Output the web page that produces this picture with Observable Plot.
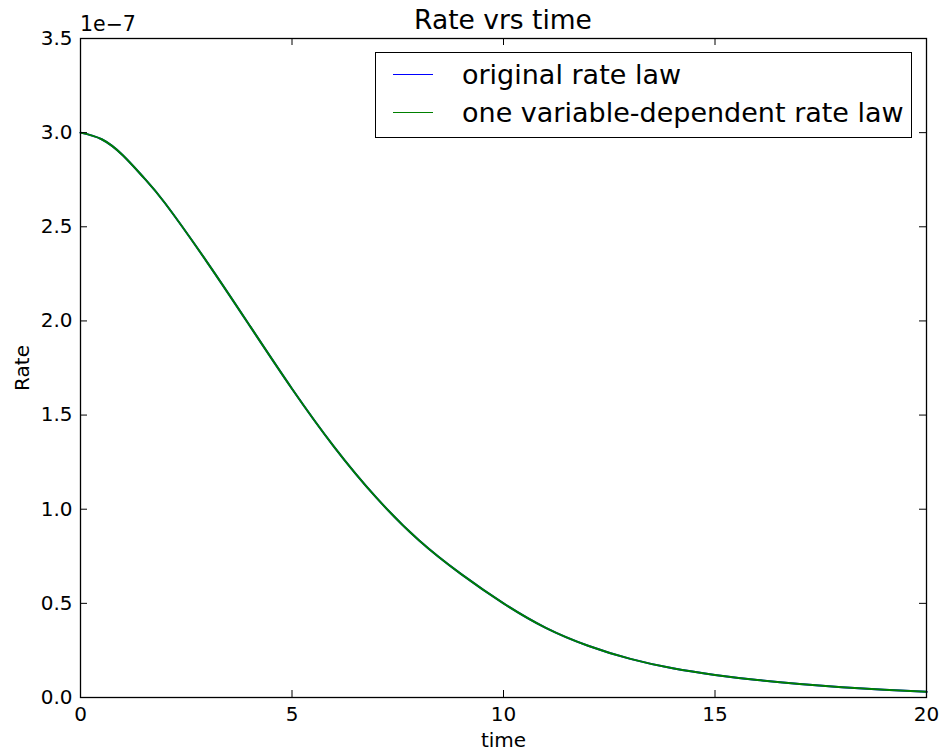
<!DOCTYPE html>
<html>
<head>
<meta charset="utf-8">
<script src="https://cdn.jsdelivr.net/npm/d3@7"></script>
<script src="https://cdn.jsdelivr.net/npm/@observablehq/plot@0.6"></script>
<style>
  html, body { margin: 0; padding: 0; background: #fff; }
  #wrap { position: relative; width: 940px; height: 750px; font-family: "DejaVu Sans", sans-serif; color: #000; }
  #title { position: absolute; left: 80px; width: 846px; top: 5px; text-align: center; font-size: 26.5px; line-height: 1.164; }
  #expo { position: absolute; left: 80px; top: 13px; font-size: 20.5px; line-height: 1.164; }
  #legend { position: absolute; left: 375px; top: 52px; width: 537px; height: 86px; border: 1.3px solid #000; box-sizing: border-box; background: #fff; }
  .item { position: absolute; left: 0; font-size: 27px; line-height: 1.164; white-space: nowrap; }
  .item .sw { position: absolute; left: 17px; width: 40px; height: 0; border-top: 1.7px solid; }
  .item .lb { position: absolute; left: 86px; }
</style>
</head>
<body>
<div id="wrap">
  <div id="chart"></div>
  <div id="title">Rate vrs time</div>
  <div id="expo">1e−7</div>
  <div id="legend"></div>
</div>
<script>
// Rate over time, same curve from both rate laws
const times = [0, 0.5, 1, 1.5, 2, 3, 4, 5, 6, 7, 8, 9, 10, 11, 12, 13, 14, 15, 16, 17, 18, 19, 20];
const originalRate = [3.00e-7, 2.965e-7, 2.88e-7, 2.76e-7, 2.625e-7, 2.31e-7, 1.975e-7, 1.64e-7, 1.33e-7, 1.06e-7, 0.835e-7, 0.655e-7, 0.50e-7, 0.37e-7, 0.275e-7, 0.205e-7, 0.155e-7, 0.12e-7, 0.093e-7, 0.072e-7, 0.055e-7, 0.041e-7, 0.030e-7];
const oneVariableRate = [3.00e-7, 2.965e-7, 2.88e-7, 2.76e-7, 2.625e-7, 2.31e-7, 1.975e-7, 1.64e-7, 1.33e-7, 1.06e-7, 0.835e-7, 0.655e-7, 0.50e-7, 0.37e-7, 0.275e-7, 0.205e-7, 0.155e-7, 0.12e-7, 0.093e-7, 0.072e-7, 0.055e-7, 0.041e-7, 0.030e-7];
const seriesNames = ["original rate law", "one variable-dependent rate law"];
const seriesColors = ["#0000ff", "#008000"];
const xTicks = [0, 5, 10, 15, 20];
const yTicks = [0, 0.5e-7, 1.0e-7, 1.5e-7, 2.0e-7, 2.5e-7, 3.0e-7, 3.5e-7];
const xDomain = [0, 20];
const yDomain = [0, 3.5e-7];

const rows = [];
times.forEach((t, i) => {
  rows.push({ time: t, rate: originalRate[i], series: seriesNames[0] });
  rows.push({ time: t, rate: oneVariableRate[i], series: seriesNames[1] });
});

const tickLen = 7;
const chart = Plot.plot({
  width: 940,
  height: 750,
  marginLeft: 80,
  marginRight: 14,
  marginTop: 38,
  marginBottom: 53,
  style: { fontFamily: "DejaVu Sans, sans-serif", background: "#fff", color: "#000" },
  x: { domain: xDomain },
  y: { domain: yDomain },
  color: { domain: seriesNames, range: seriesColors },
  marks: [
    Plot.line(rows, { x: "time", y: "rate", z: "series", stroke: "series", strokeWidth: 2, curve: "natural" }),
    // inward ticks on all four sides
    Plot.ruleX(xTicks, { x: d => d, y1: yDomain[0], y2: yDomain[0], insetTop: -tickLen, stroke: "#000", strokeWidth: 1 }),
    Plot.ruleX(xTicks, { x: d => d, y1: yDomain[1], y2: yDomain[1], insetBottom: -tickLen, stroke: "#000", strokeWidth: 1 }),
    Plot.ruleY(yTicks, { y: d => d, x1: xDomain[0], x2: xDomain[0], insetRight: -tickLen, stroke: "#000", strokeWidth: 1 }),
    Plot.ruleY(yTicks, { y: d => d, x1: xDomain[1], x2: xDomain[1], insetLeft: -tickLen, stroke: "#000", strokeWidth: 1 }),
    Plot.axisX({ ticks: xTicks, tickSize: 0, tickPadding: 9, fontSize: 20, tickFormat: d => String(d), label: "time", labelAnchor: "center", labelOffset: 49, labelArrow: "none" }),
    Plot.axisY({ ticks: yTicks, tickSize: 0, tickPadding: 8, fontSize: 20, tickFormat: d => (d / 1e-7).toFixed(1), label: "Rate", labelAnchor: "center", labelOffset: 66, labelArrow: "none" }),
    Plot.frame({ stroke: "#000", strokeWidth: 1.3 })
  ]
});
document.getElementById("chart").appendChild(chart);

// legend entries
const legend = document.getElementById("legend");
seriesNames.forEach((name, i) => {
  const item = document.createElement("div");
  item.className = "item";
  item.style.top = (6 + i * 38) + "px";
  item.innerHTML = `<span class="sw" style="border-color:${seriesColors[i]};top:15px"></span><span class="lb">${name}</span>`;
  legend.appendChild(item);
});
</script>
</body>
</html>
